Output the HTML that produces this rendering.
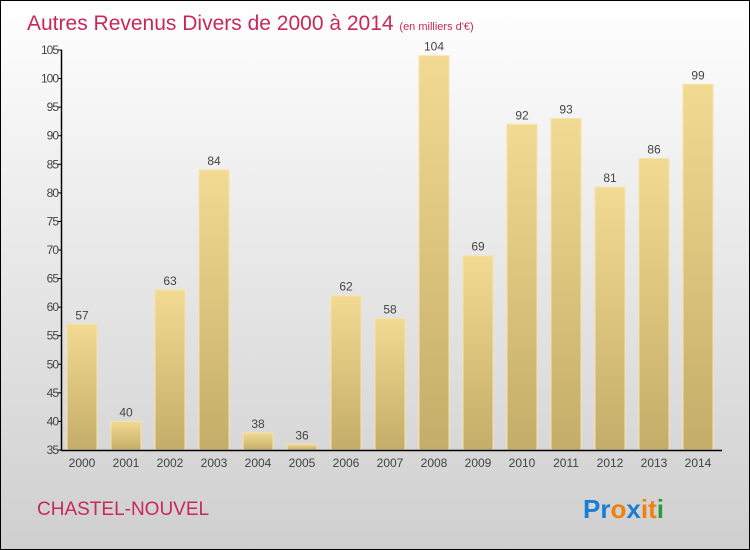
<!DOCTYPE html>
<html><head><meta charset="utf-8"><style>
body{margin:0}
#c{position:relative;width:748px;height:548px;border:1px solid #000;background:linear-gradient(#fff,#f0f0f0 30%,#cfcfcf);overflow:hidden;font-family:"Liberation Sans",sans-serif}
</style></head><body>
<div id="c">
<svg id="s" width="748" height="548">
<defs><linearGradient id="g" x1="0" y1="0" x2="0" y2="1"><stop offset="0" stop-color="#f3da92"/><stop offset="1" stop-color="#c4ad68"/></linearGradient></defs>
<text x="26" y="29" font-size="21" fill="#c8285a">Autres Revenus Divers de 2000 à 2014 <tspan font-size="11">(en milliers d'€)</tspan></text>
<text x="36" y="514" font-size="19" fill="#c8285a">CHASTEL-NOUVEL</text>
<text x="582" y="517" font-size="26" font-weight="bold"><tspan fill="#1a7fd4">Pr</tspan><tspan fill="#f08010">o</tspan><tspan fill="#1a7fd4">x</tspan><tspan fill="#f08010">i</tspan><tspan fill="#f08010">t</tspan><tspan fill="#2a9a3a">i</tspan></text>
<g id="plot"></g>
</svg></div>
<script>
const years=["2000","2001","2002","2003","2004","2005","2006","2007","2008","2009","2010","2011","2012","2013","2014"];
const values=[57,40,63,84,38,36,62,58,104,69,92,93,81,86,99];
const yTicks=[35,40,45,50,55,60,65,70,75,80,85,90,95,100,105];
const NS="http://www.w3.org/2000/svg";
const g=document.getElementById('plot');
const y=v=>449-(v-35)*400/70;
const x=i=>81+i*44;
function el(t,a,txt){const e=document.createElementNS(NS,t);for(const k in a)e.setAttribute(k,a[k]);if(txt!=null)e.textContent=txt;g.appendChild(e);return e;}
values.forEach((v,i)=>{
const r=el('rect',{x:x(i)-15,y:y(v),width:30,height:449-y(v),fill:'url(#g)',stroke:'#f5e4a8','stroke-width':1});


const t=el('text',{x:x(i),y:y(v)-5,'text-anchor':'middle','font-size':12,fill:'#444'},v);


const xl=el('text',{x:x(i),y:466,'text-anchor':'middle','font-size':12,fill:'#444'},years[i]);


});
yTicks.forEach(v=>{
el('line',{x1:57,x2:61,y1:y(v),y2:y(v),stroke:'#000'});
const t=el('text',{x:57,y:y(v)+4,'text-anchor':'end','font-size':12,fill:'#444','letter-spacing':'-1'},v);


});
const ya=el('line',{x1:60.5,x2:60.5,y1:49,y2:450,stroke:'#000','stroke-width':1.5});


const xa=el('line',{x1:60,x2:721,y1:449.5,y2:449.5,stroke:'#000','stroke-width':1.5});


</script>
</body></html>
